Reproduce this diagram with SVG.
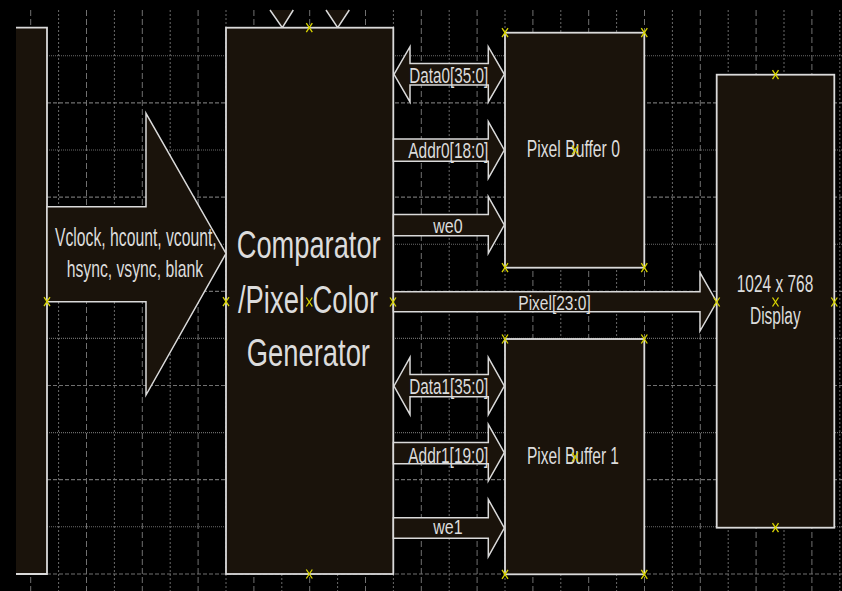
<svg xmlns="http://www.w3.org/2000/svg" xmlns:xlink="http://www.w3.org/1999/xlink" width="842" height="591" viewBox="0 0 842 591">
<style>
.gvd{stroke:#707070;stroke-width:1;stroke-dasharray:6,3}
.gvf{stroke:#6a6a6a;stroke-width:1;stroke-dasharray:2,2}
.ghd{stroke:#707070;stroke-width:1.2;stroke-dasharray:4,2}
.ghf{stroke:#6a6a6a;stroke-width:1.1;stroke-dasharray:1,1}
.blk{fill:#1a130b;stroke:#dadada;stroke-width:1.8}
.arr{fill:#1a130b;stroke:#dadada;stroke-width:1.5;stroke-linejoin:miter}
.t{font-family:"Liberation Sans",Arial,sans-serif;fill:#dcdcdc}
.mk{stroke:#d8d400;stroke-width:1.3;fill:none}
</style>
<defs>
<path id="mk" class="mk" d="M-3,-4.5 L3,4.5 M3,-4.5 L-3,4.5"/>
</defs>
<rect x="0" y="0" width="842" height="591" fill="#000"/>
<g id="grid">
<line class="gvd" x1="30.7" y1="10" x2="30.7" y2="591"/>
<line class="gvf" x1="58.6" y1="10" x2="58.6" y2="591"/>
<line class="gvd" x1="86.5" y1="10" x2="86.5" y2="591"/>
<line class="gvf" x1="114.4" y1="10" x2="114.4" y2="591"/>
<line class="gvd" x1="142.3" y1="10" x2="142.3" y2="591"/>
<line class="gvf" x1="170.2" y1="10" x2="170.2" y2="591"/>
<line class="gvd" x1="198.1" y1="10" x2="198.1" y2="591"/>
<line class="gvf" x1="226" y1="10" x2="226" y2="591"/>
<line class="gvd" x1="253.9" y1="10" x2="253.9" y2="591"/>
<line class="gvf" x1="281.8" y1="10" x2="281.8" y2="591"/>
<line class="gvd" x1="309.7" y1="10" x2="309.7" y2="591"/>
<line class="gvf" x1="337.6" y1="10" x2="337.6" y2="591"/>
<line class="gvd" x1="365.5" y1="10" x2="365.5" y2="591"/>
<line class="gvf" x1="393.4" y1="10" x2="393.4" y2="591"/>
<line class="gvd" x1="421.3" y1="10" x2="421.3" y2="591"/>
<line class="gvf" x1="449.2" y1="10" x2="449.2" y2="591"/>
<line class="gvd" x1="477.1" y1="10" x2="477.1" y2="591"/>
<line class="gvf" x1="505" y1="10" x2="505" y2="591"/>
<line class="gvd" x1="532.9" y1="10" x2="532.9" y2="591"/>
<line class="gvf" x1="560.8" y1="10" x2="560.8" y2="591"/>
<line class="gvd" x1="588.7" y1="10" x2="588.7" y2="591"/>
<line class="gvf" x1="616.6" y1="10" x2="616.6" y2="591"/>
<line class="gvd" x1="644.5" y1="10" x2="644.5" y2="591"/>
<line class="gvf" x1="672.4" y1="10" x2="672.4" y2="591"/>
<line class="gvd" x1="700.3" y1="10" x2="700.3" y2="591"/>
<line class="gvf" x1="728.2" y1="10" x2="728.2" y2="591"/>
<line class="gvd" x1="756.1" y1="10" x2="756.1" y2="591"/>
<line class="gvf" x1="784" y1="10" x2="784" y2="591"/>
<line class="gvd" x1="811.9" y1="10" x2="811.9" y2="591"/>
<line class="gvf" x1="839.8" y1="10" x2="839.8" y2="591"/>
<line class="ghf" x1="47" y1="55.8" x2="842" y2="55.8"/>
<line class="ghd" x1="47" y1="102.9" x2="842" y2="102.9"/>
<line class="ghf" x1="47" y1="150" x2="842" y2="150"/>
<line class="ghd" x1="47" y1="197.1" x2="842" y2="197.1"/>
<line class="ghf" x1="47" y1="244.2" x2="842" y2="244.2"/>
<line class="ghd" x1="47" y1="291.3" x2="842" y2="291.3"/>
<line class="ghf" x1="47" y1="338.4" x2="842" y2="338.4"/>
<line class="ghd" x1="47" y1="385.5" x2="842" y2="385.5"/>
<line class="ghf" x1="47" y1="432.6" x2="842" y2="432.6"/>
<line class="ghd" x1="47" y1="479.7" x2="842" y2="479.7"/>
<line class="ghf" x1="47" y1="526.8" x2="842" y2="526.8"/>
<line class="ghd" x1="47" y1="574" x2="842" y2="574"/>
</g>
<g id="node-source">
<rect x="16" y="27.7" width="31" height="546.3" fill="#1a130b"/>
<path d="M16,27.7 H47 V574 H16" fill="none" stroke="#dadada" stroke-width="1.8"/>
</g>
<g id="node-top-inputs">
<path d="M270,10 L282.3,27.7 L293.3,10 Z" fill="#1a130b"/>
<path d="M270,10 L282.3,27.7 L293.3,10" fill="none" stroke="#dadada" stroke-width="1.5"/>
<path d="M326,10 L337.7,27.7 L349.3,10 Z" fill="#1a130b"/>
<path d="M326,10 L337.7,27.7 L349.3,10" fill="none" stroke="#dadada" stroke-width="1.5"/>
</g>
<g id="node-comparator">
<rect class="blk" x="226" y="27.7" width="167.3" height="546.3"/>
<text class="t" x="236.7" y="258" font-size="39" textLength="144" lengthAdjust="spacingAndGlyphs">Comparator</text>
<text class="t" x="238" y="313" font-size="39" textLength="140" lengthAdjust="spacingAndGlyphs">/Pixel Color</text>
<text class="t" x="246.7" y="366" font-size="39" textLength="123.3" lengthAdjust="spacingAndGlyphs">Generator</text>
</g>
<g id="node-buffer0">
<rect class="blk" x="505" y="32.7" width="139.3" height="235"/>
<text class="t" x="526.7" y="157.3" font-size="24" textLength="93.3" lengthAdjust="spacingAndGlyphs">Pixel Buffer 0</text>
</g>
<g id="node-buffer1">
<rect class="blk" x="505" y="339" width="139.3" height="235.3"/>
<text class="t" x="527" y="464" font-size="24" textLength="92" lengthAdjust="spacingAndGlyphs">Pixel Buffer 1</text>
</g>
<g id="node-display">
<rect class="blk" x="716.7" y="74.7" width="117.6" height="453"/>
<text class="t" x="736.7" y="292.3" font-size="24" textLength="76.6" lengthAdjust="spacingAndGlyphs">1024 x 768</text>
<text class="t" x="750" y="324" font-size="23" textLength="50.7" lengthAdjust="spacingAndGlyphs">Display</text>
</g>
<g id="connectors">
<polygon class="arr" points="47,206.7 146,206.7 146,113.3 226,253.5 146,395 146,301.7 47,301.7"/>
<text class="t" x="55" y="245.5" font-size="25" textLength="161.7" lengthAdjust="spacingAndGlyphs">Vclock, hcount, vcount,</text>
<text class="t" x="66.7" y="277" font-size="24" textLength="136.3" lengthAdjust="spacingAndGlyphs">hsync, vsync, blank</text>

<polygon class="arr" points="393.4,291.7 700,291.7 700,272.7 716.7,302 700,331 700,311.7 393.4,311.7"/>
<text class="t" x="518.3" y="309.5" font-size="21" textLength="72.4" lengthAdjust="spacingAndGlyphs">Pixel[23:0]</text>

<polygon class="arr" points="394,74.3 410,46.7 410,63.5 488.3,63.5 488.3,46.7 504.3,74.3 488.3,102 488.3,85 410,85 410,102"/>
<text class="t" x="409.3" y="83.3" font-size="22" textLength="79" lengthAdjust="spacingAndGlyphs">Data0[35:0]</text>

<polygon class="arr" points="393.4,139 488.3,139 488.3,121.7 504.3,150 488.3,178.3 488.3,161.3 393.4,161.3"/>
<text class="t" x="408.3" y="157.5" font-size="22" textLength="80" lengthAdjust="spacingAndGlyphs">Addr0[18:0]</text>

<polygon class="arr" points="393.4,214.5 488.3,214.5 488.3,196.7 504.3,225 488.3,253.3 488.3,235.7 393.4,235.7"/>
<text class="t" x="433.3" y="233.3" font-size="21" textLength="29.4" lengthAdjust="spacingAndGlyphs">we0</text>

<polygon class="arr" points="394,386 410,357.3 410,374.5 488.3,374.5 488.3,357.3 504.3,386 488.3,414.7 488.3,396.7 410,396.7 410,414.7"/>
<text class="t" x="409.3" y="394" font-size="22" textLength="79" lengthAdjust="spacingAndGlyphs">Data1[35:0]</text>

<polygon class="arr" points="393.4,442.5 488.3,442.5 488.3,424.3 504.3,452.7 488.3,481 488.3,463.7 393.4,463.7"/>
<text class="t" x="408.3" y="462.7" font-size="22" textLength="80" lengthAdjust="spacingAndGlyphs">Addr1[19:0]</text>

<polygon class="arr" points="393.4,517.7 488.3,517.7 488.3,499.3 504.3,528 488.3,556.7 488.3,538.3 393.4,538.3"/>
<text class="t" x="433.3" y="534" font-size="21" textLength="29.4" lengthAdjust="spacingAndGlyphs">we1</text>
</g>
<g id="markers">
<use xlink:href="#mk" x="47" y="301.7"/>
<use xlink:href="#mk" x="226" y="301.7"/>
<use xlink:href="#mk" x="309.3" y="27.7"/>
<use xlink:href="#mk" x="309.3" y="302"/>
<use xlink:href="#mk" x="393" y="302"/>
<use xlink:href="#mk" x="309.3" y="574"/>
<use xlink:href="#mk" x="505" y="32.7"/>
<use xlink:href="#mk" x="644.3" y="32.7"/>
<use xlink:href="#mk" x="505" y="267.7"/>
<use xlink:href="#mk" x="644.3" y="267.7"/>
<use xlink:href="#mk" x="575" y="150"/>
<use xlink:href="#mk" x="505" y="339"/>
<use xlink:href="#mk" x="644.3" y="339"/>
<use xlink:href="#mk" x="505" y="574.3"/>
<use xlink:href="#mk" x="644.3" y="574.3"/>
<use xlink:href="#mk" x="575" y="457"/>
<use xlink:href="#mk" x="775.5" y="74.7"/>
<use xlink:href="#mk" x="716.7" y="302"/>
<use xlink:href="#mk" x="775.5" y="302"/>
<use xlink:href="#mk" x="834.3" y="302"/>
<use xlink:href="#mk" x="775.5" y="527.7"/>
</g>
</svg>
